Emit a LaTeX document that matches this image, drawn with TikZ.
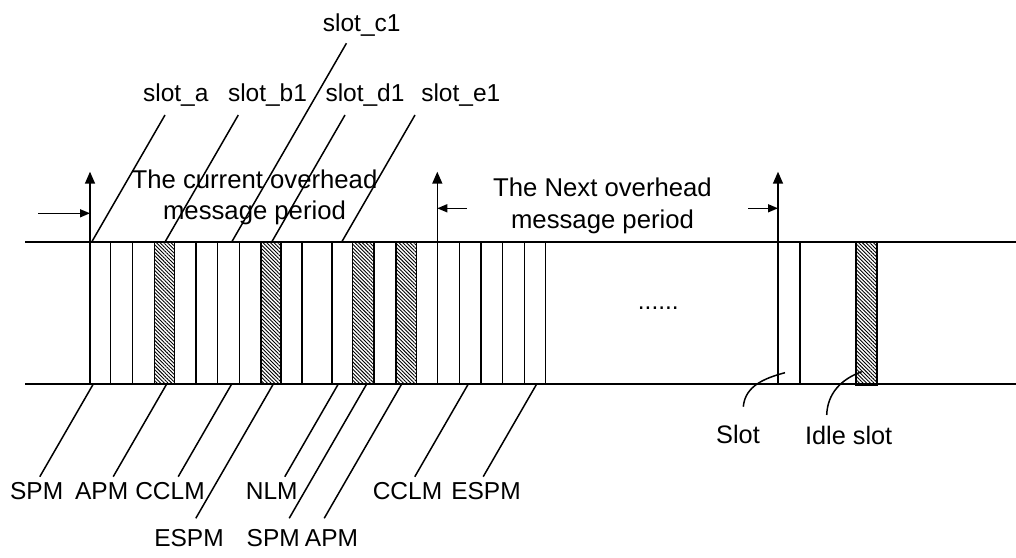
\documentclass[tikz,border=0pt]{standalone}
\usepackage{fontspec}
\setmainfont{Liberation Sans}
\usetikzlibrary{arrows.meta,patterns.meta}

\begin{document}
\begin{tikzpicture}[x=1pt, y=1pt,
            lbl/.style={font=\fontsize{24.5}{31.7}\selectfont, inner sep=0pt, anchor=base},
            period/.style={lbl, align=center, font=\fontsize{25.7}{31.7}\selectfont},
            rail/.style={line width=2pt},
            bar/.style={line width=1.5pt},
            idle/.style={bar, pattern={Lines[angle=-45, distance=2.6pt, line width=0.9pt]}},
            lead/.style={line width=1.5pt},
            uparr/.style={line width=1.5pt, -{Triangle[length=12pt, width=10pt]}},
            sidearr/.style={line width=1.5pt, -{Triangle[length=10pt, width=8pt]}}
        ]
            \useasboundingbox (0,0) rectangle (1016,557);

            % the two rails of the channel
            \draw[rail] (25,315) -- (1016,315);
            \draw[rail] (25,173) -- (1016,173);

            % slots
            \foreach \x in {110.7,132.3,196,217.7,239.3,302,332,459.3,481,502.7,524.3,545.7,800}
                \draw[bar] (\x,173) -- (\x,315);
            \foreach \a/\b in {154.3/174.3, 261/281, 352.7/374, 396/416.7}
                \draw[idle] (\a,173) rectangle (\b,315);
            \draw[idle, line width=1.9pt] (855.7,171.5) rectangle (877.3,315);

            % period boundaries
            \draw[uparr] (90,173) -- (90,385.3);
            \draw[uparr] (437.3,173) -- (437.3,385.3);
            \draw[uparr] (778,173) -- (778,385.3);
            \draw[sidearr] (38.3,343.7) -- (90,343.7);
            \draw[sidearr] (466.7,348.7) -- (437.3,348.7);
            \draw[sidearr] (748,348.7) -- (778,348.7);

            \node[period] (cur) at (254.5,337) {The current overhead\\message period};
            \node[period] (next) at (602.5,328.6) {The Next overhead\\message period};
            \node[lbl] (dots) at (658.3,247) {......};

            % top labels
            \node[lbl] (sa) at (175.8,455.3) {slot\_a};
            \node[lbl] (sb) at (267.5,455.3) {slot\_b1};
            \node[lbl] (sc) at (361.7,525.3) {slot\_c1};
            \node[lbl] (sd) at (365,455.3) {slot\_d1};
            \node[lbl] (se) at (460.8,455.3) {slot\_e1};

            \coordinate (sa-top) at (165,442);   \coordinate (sa-foot) at (91.7,315);
            \coordinate (sb-top) at (238.3,442); \coordinate (sb-foot) at (165,315);
            \coordinate (sc-top) at (346.4,513.7); \coordinate (sc-foot) at (231.7,315);
            \coordinate (sd-top) at (345,442);   \coordinate (sd-foot) at (271.7,315);
            \coordinate (se-top) at (415,442);   \coordinate (se-foot) at (341.7,315);

            \draw[lead] (sa-foot) -- (sa-top);
            \draw[lead] (sb-foot) -- (sb-top);
            \draw[lead] (sc-foot) -- (sc-top);
            \draw[lead] (sd-foot) -- (sd-top);
            \draw[lead] (se-foot) -- (se-top);

            % bottom labels
            \node[lbl] (spm)   at (36.7,57.5)  {SPM};
            \node[lbl] (apm)   at (101.7,57.5) {APM};
            \node[lbl] (cclm)  at (170,57.5)   {CCLM};
            \node[lbl] (nlm)   at (271.7,57.5) {NLM};
            \node[lbl] (cclm2) at (407.5,57.5) {CCLM};
            \node[lbl] (espm2) at (486,57.5)   {ESPM};
            \node[lbl] (espm)  at (189,10.5)   {ESPM};
            \node[lbl] (spm2)  at (273.2,10.5) {SPM};
            \node[lbl] (apm2)  at (331.5,10.5) {APM};

            \coordinate (spm-top) at (93.3,173);    \coordinate (spm-end) at (39.8,80.3);
            \coordinate (apm-top) at (166.7,173);   \coordinate (apm-end) at (113.2,80.3);
            \coordinate (cclm-top) at (231.7,173);  \coordinate (cclm-end) at (178.2,80.3);
            \coordinate (espm-top) at (273.3,173);  \coordinate (espm-end) at (195.8,38.7);
            \coordinate (nlm-top) at (338.3,173);   \coordinate (nlm-end) at (284.8,80.3);
            \coordinate (spm2-top) at (366.7,173);  \coordinate (spm2-end) at (289.2,38.7);
            \coordinate (apm2-top) at (401.7,173);  \coordinate (apm2-end) at (324.2,38.7);
            \coordinate (cclm2-top) at (468.3,173); \coordinate (cclm2-end) at (414.8,80.3);
            \coordinate (espm2-top) at (536.7,173); \coordinate (espm2-end) at (483.2,80.3);

            \foreach \n in {spm,apm,cclm,espm,nlm,spm2,apm2,cclm2,espm2}
                \draw[lead] (\n-top) -- (\n-end);

            % slot / idle slot
            \node[lbl, font=\fontsize{25.3}{30}\selectfont] (slot) at (738,113.7) {Slot};
            \node[lbl, font=\fontsize{25.3}{30}\selectfont] (idleslot) at (848.7,112.5) {Idle slot};
            \coordinate (slot-end) at (743.3,150.3);
            \coordinate (slot-in) at (785,184.3);
            \coordinate (idle-end) at (826.7,142);
            \coordinate (idle-in) at (861.7,185.3);
            \draw[lead] (slot-end) to[out=85, in=195] (slot-in);
            \draw[lead] (idle-end) to[out=88, in=200] (idle-in);

        \end{tikzpicture}
\end{document}
